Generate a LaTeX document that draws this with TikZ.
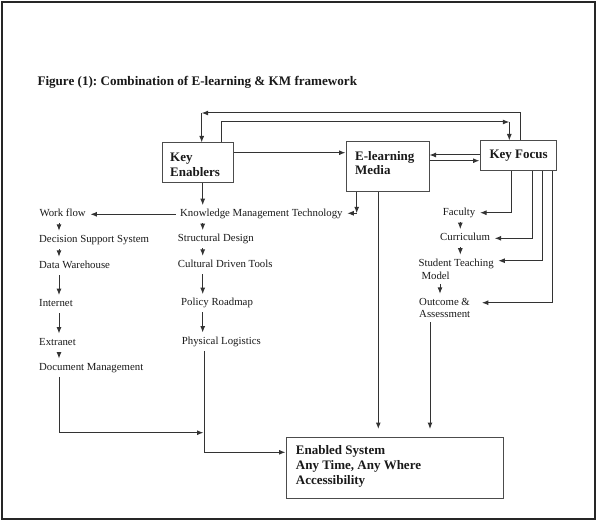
\documentclass[tikz,border=0pt]{standalone}
\usepackage{fontspec}
\setmainfont{Liberation Serif}
\usetikzlibrary{arrows.meta}
\frenchspacing
\begin{document}
\begin{tikzpicture}[x=1pt,y=-1pt,
  every node/.style={inner xsep=4.5pt, inner ysep=4pt, anchor=west, text=black!90},
  lbl/.style={font=\fontsize{10.8}{13}\selectfont, text height=7.5pt, text depth=2.4pt},
  mlbl/.style={font=\fontsize{10.8}{13.3}\selectfont, align=left},
  boxtxt/.style={font=\fontsize{13}{14.3}\selectfont\bfseries, align=left, inner sep=0pt},
  boxx/.style={draw=black!70, line width=1pt, anchor=center, inner sep=0pt},
  arr/.style={draw=black!80, line width=1pt, -{Latex[length=6.5pt,width=5pt]}},
  ln/.style={draw=black!80, line width=1pt}
]
\useasboundingbox (0,0) rectangle (597,521);
\draw[black!85, line width=1.5pt] (2,2) rectangle (595,519);

% title
\node[inner sep=0pt, font=\fontsize{13.1}{15}\selectfont\bfseries] (title) at (37.3,82)
  {Figure (1): Combination of E-learning \& KM framework};

% boxes
\node[boxx, minimum width=71pt, minimum height=40pt] (ke) at (197.5,163) {};
\node[boxx, minimum width=83pt, minimum height=50pt] (elm) at (387.5,167) {};
\node[boxx, minimum width=76pt, minimum height=30pt] (kf) at (518,156) {};
\node[boxx, minimum width=217pt, minimum height=61pt] (es) at (394.5,467.5) {};

\node[boxtxt] (ket) at (170,164.8) {Key\\Enablers};
\node[boxtxt] (elmt) at (355,162.8) {E-learning\\Media};
\node[boxtxt] (kft) at (489.3,155.4) {Key Focus};
\node[boxtxt, font=\fontsize{13}{15.3}\selectfont\bfseries] (est) at (295.7,466.5)
  {Enabled System\\Any Time, Any Where\\Accessibility};

% left column
\node[lbl] (wf) at (34.8,214.3) {Work flow};
\node[lbl] (dss) at (34.5,240) {Decision Support System};
\node[lbl] (dw) at (34.5,266) {Data Warehouse};
\node[lbl] (inet) at (34.5,304.3) {Internet};
\node[lbl] (ext) at (34.5,342.7) {Extranet};
\node[lbl] (dm) at (34.5,367.7) {Document Management};

% middle column
\node[lbl] (kmt) at (175.5,214.3) {Knowledge Management Technology};
\node[lbl] (sd) at (173.2,239.3) {Structural Design};
\node[lbl] (cdt) at (173.2,265) {Cultural Driven Tools};
\node[lbl] (pr) at (176.5,303.3) {Policy Roadmap};
\node[lbl] (pl) at (177.2,341.7) {Physical Logistics};

% right column
\node[lbl] (fac) at (438.2,212.7) {Faculty};
\node[lbl] (cur) at (435.5,238.3) {Curriculum};
\node[mlbl] (stm) at (413.8,269.4) {Student Teaching\\\hspace*{3pt}Model};
\node[mlbl, font=\fontsize{10.8}{12.6}\selectfont] (oa) at (414.5,308) {Outcome \&\\Assessment};

% helper coordinates
\coordinate (c1) at (201.7,113);
\coordinate (xa) at (520.7,0);
\coordinate (c2) at (509.3,122);
\coordinate (xb) at (221.7,0);
\coordinate (yk) at (0,152.7);
\coordinate (yf) at (0,155);
\coordinate (ye) at (0,160.7);
\coordinate (cM) at (202.7,0);
\coordinate (cL) at (59,0);
\coordinate (c3) at (356.7,213.3);
\coordinate (xe) at (378.3,0);
\coordinate (xo) at (430,0);
\coordinate (j1) at (203.5,432.7);
\coordinate (j2) at (204,452.3);
\coordinate (xf1) at (511.7,0);
\coordinate (xf2) at (532.7,0);
\coordinate (xf3) at (542.7,0);
\coordinate (xf4) at (552.7,0);
\coordinate (ys) at (0,260.7);
\coordinate (yo) at (0,302.7);
\coordinate (xc) at (460.3,0);
\coordinate (xs) at (440,0);

% top loops
\draw[arr] (kf.north -| xa) |- (c1);
\draw[arr] (c1) -- (ke.north -| c1);
\draw[arr] (ke.north -| xb) |- (c2);
\draw[arr] (c2) -- (kf.north -| c2);

% between boxes
\draw[arr] (ke.east |- yk) -- (elm.west |- yk);
\draw[arr] (kf.west |- yf) -- (elm.east |- yf);
\draw[arr] (elm.east |- ye) -- (kf.west |- ye);

% enablers -> KMT
\draw[arr] (ke.south -| cM) -- (kmt.north -| cM);
\draw[arr] (elm.south -| c3) -- (c3);
\draw[arr] (c3) -- (kmt.east |- c3);
\draw[arr] (kmt.west) -- (wf.east);

% left column
\draw[arr] (wf.south -| cL) -- (dss.north -| cL);
\draw[arr] (dss.south -| cL) -- (dw.north -| cL);
\draw[arr] (dw.south -| cL) -- (inet.north -| cL);
\draw[arr] (inet.south -| cL) -- (ext.north -| cL);
\draw[arr] (ext.south -| cL) -- (dm.north -| cL);
\draw[arr] (dm.south -| cL) |- (j1);

% middle column
\draw[arr] (kmt.south -| cM) -- (sd.north -| cM);
\draw[arr] (sd.south -| cM) -- (cdt.north -| cM);
\draw[arr] (cdt.south -| cM) -- (pr.north -| cM);
\draw[arr] (pr.south -| cM) -- (pl.north -| cM);
\draw[arr] (pl.south -| j2) |- (es.west |- j2);

% media and outcome -> enabled system
\draw[arr, shorten >=7.5pt] (elm.south -| xe) -- (es.north -| xe);
\draw[arr, shorten >=7.5pt] (oa.south -| xo) -- (es.north -| xo);

% key focus -> right column
\draw[arr] (kf.south -| xf1) |- (fac.east);
\draw[arr] (kf.south -| xf2) |- (cur.east);
\draw[arr] (kf.south -| xf3) |- (stm.east |- ys);
\draw[arr, shorten >=7pt] (kf.south -| xf4) |- (oa.east |- yo);
\draw[arr] (fac.south -| xc) -- (cur.north -| xc);
\draw[arr] (cur.south -| xc) -- (stm.north -| xc);
\draw[arr] (stm.south -| xs) -- (oa.north -| xs);
\end{tikzpicture}
\end{document}
